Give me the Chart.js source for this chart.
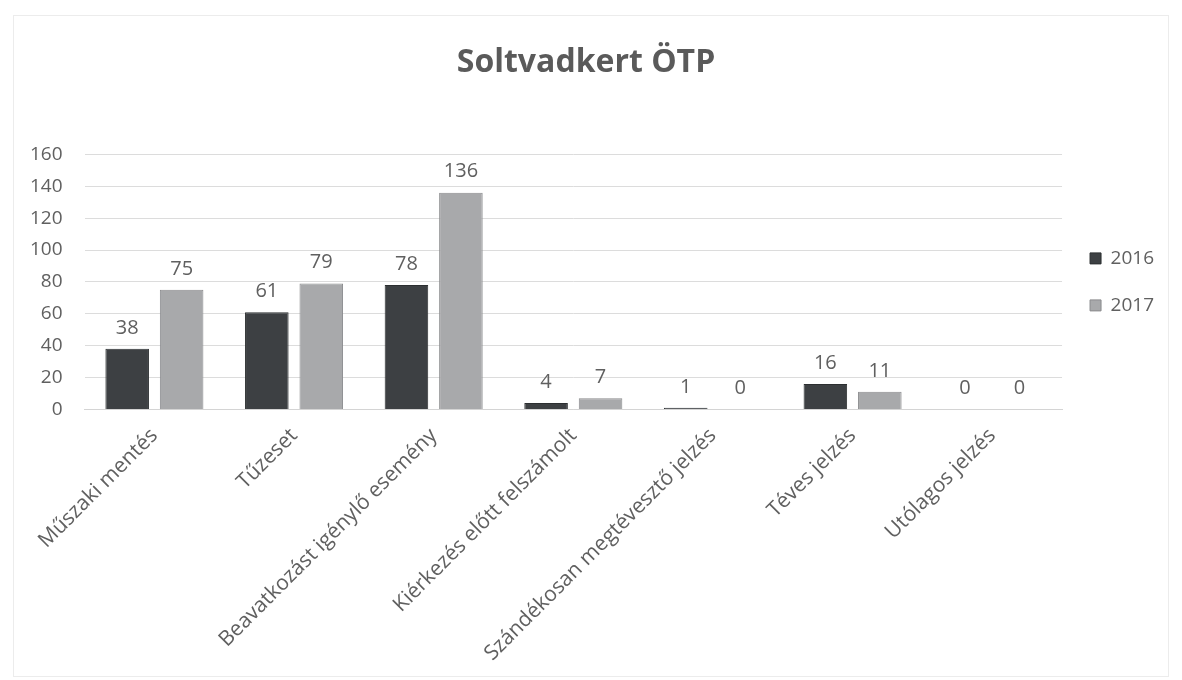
<!DOCTYPE html>
<html>
<head>
<meta charset="utf-8">
<script src="https://cdn.jsdelivr.net/npm/chart.js@4/dist/chart.umd.min.js"></script>
<style>
  html, body { margin: 0; padding: 0; background: #ffffff; }
  #wrap { position: absolute; left: 0; top: 0; width: 1182px; height: 680px; }
  #frame { position: absolute; left: 13px; top: 15px; width: 1156px; height: 662px; border: 1px solid #ececec; box-sizing: border-box; }
  canvas { position: absolute; left: 0; top: 0; }
</style>
</head>
<body>
<div id="wrap">
  <div id="frame"></div>
  <canvas id="c" width="1182" height="680"></canvas>
</div>
<script>
const titleText = 'Soltvadkert ÖTP';
const categories = [
  'Műszaki mentés',
  'Tűzeset',
  'Beavatkozást igénylő esemény',
  'Kiérkezés előtt felszámolt',
  'Szándékosan megtévesztő jelzés',
  'Téves jelzés',
  'Utólagos jelzés'
];
const seriesNames = ['2016', '2017'];
const values2016 = [38, 61, 78, 4, 1, 16, 0];
const values2017 = [75, 79, 136, 7, 0, 11, 0];
const yTicks = [0, 20, 40, 60, 80, 100, 120, 140, 160];

const FONT = '"Open Sans", "Liberation Sans", sans-serif';
const TEXT = '#606060';

const labelPlugin = {
  id: 'valueLabels',
  afterDatasetsDraw(chart) {
    const ctx = chart.ctx;
    ctx.save();
    ctx.font = '20px ' + FONT;
    ctx.fillStyle = TEXT;
    ctx.textAlign = 'center';
    ctx.textBaseline = 'bottom';
    chart.data.datasets.forEach((ds, di) => {
      const meta = chart.getDatasetMeta(di);
      meta.data.forEach((bar, i) => {
        ctx.fillText(String(ds.data[i]), bar.x, bar.y - 11);
      });
    });
    ctx.restore();
  }
};

new Chart(document.getElementById('c'), {
  type: 'bar',
  data: {
    labels: categories,
    datasets: [
      {
        label: seriesNames[0],
        data: values2016,
        backgroundColor: '#3d4043',
        borderColor: '#2c2f31',
        borderWidth: 1,
        barPercentage: 0.8,
        categoryPercentage: 0.78
      },
      {
        label: seriesNames[1],
        data: values2017,
        backgroundColor: '#a8a9ab',
        borderColor: '#8a8b8d',
        borderWidth: 1,
        barPercentage: 0.8,
        categoryPercentage: 0.78
      }
    ]
  },
  options: {
    responsive: false,
    animation: false,
    devicePixelRatio: 1,
    layout: { padding: { top: 20, left: 8, right: 18, bottom: 8 } },
    plugins: {
      title: {
        display: true,
        text: titleText,
        color: '#5a5a5a',
        font: { family: FONT, size: 32, weight: 'bold' },
        padding: { top: 24, bottom: 72 }
      },
      legend: {
        position: 'right',
        fullSize: false,
        labels: {
          color: TEXT,
          font: { family: FONT, size: 19 },
          boxWidth: 11,
          boxHeight: 11,
          padding: 28
        }
      },
      tooltip: { enabled: false }
    },
    scales: {
      x: {
        grid: { display: false },
        border: { display: true, color: '#d4d4d4' },
        ticks: {
          color: TEXT,
          font: { family: FONT, size: 21 },
          minRotation: 45,
          maxRotation: 45,
          autoSkip: false,
          padding: 6
        }
      },
      y: {
        min: 0,
        max: 160,
        afterBuildTicks(scale) { scale.ticks = yTicks.map(v => ({ value: v })); },
        grid: { color: '#dcdcdc', drawTicks: false },
        border: { display: false },
        ticks: {
          color: TEXT,
          font: { family: FONT, size: 19 },
          padding: 22
        }
      }
    }
  },
  plugins: [labelPlugin]
});
</script>
</body>
</html>
